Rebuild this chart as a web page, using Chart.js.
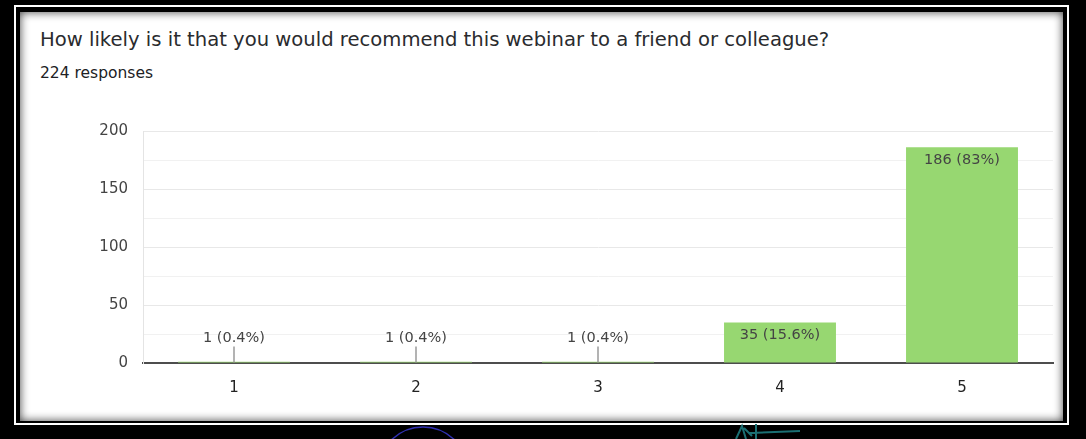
<!DOCTYPE html>
<html>
<head>
<meta charset="utf-8">
<script src="https://cdn.jsdelivr.net/npm/chart.js@4.4.1/dist/chart.umd.min.js"></script>
<style>
  html, body { margin: 0; padding: 0; }
  body { width: 1086px; height: 439px; background: #000; position: relative; overflow: hidden; font-family: "DejaVu Sans", sans-serif; }
  #line { position: absolute; left: 14px; top: 5px; width: 1055px; height: 420px; border: 2px solid #fff; box-sizing: border-box; }
  #content { position: absolute; left: 20px; top: 12px; width: 1043px; height: 409px; background: #fff; box-shadow: inset 0 0 10px rgba(0,0,0,0.75); }
  #title { position: absolute; left: 40px; top: 29.5px; font-size: 19.6px; line-height: 19.6px; color: #2a2b2e; white-space: nowrap; }
  #sub { position: absolute; left: 40px; top: 66px; font-size: 15.5px; line-height: 15.5px; color: #202124; white-space: nowrap; }
  #wrap { position: absolute; left: 0; top: 0; width: 1086px; height: 439px; }
  #deco { position: absolute; left: 0; top: 0; }
</style>
</head>
<body>
<div id="line"></div>
<div id="content"></div>
<svg id="deco" width="1086" height="439">
  <circle cx="423" cy="472" r="45" fill="none" stroke="#3030b0" stroke-width="1.6"/>
  <path d="M736 439 L742 426 L746 439 M744 428 L752 436 M756 424 L756 439 M749 433 L800 431" fill="none" stroke="#1b6f73" stroke-width="2"/>
</svg>
<div id="title">How likely is it that you would recommend this webinar to a friend or colleague?</div>
<div id="sub">224 responses</div>
<div id="wrap"><canvas id="c" width="1086" height="439"></canvas></div>
<script>
const categories = ['1', '2', '3', '4', '5'];
const responses = [1, 1, 1, 35, 186];
const percentLabels = ['0.4%', '0.4%', '0.4%', '15.6%', '83%'];
const yTicks = [0, 50, 100, 150, 200];

const barLabels = {
  id: 'barLabels',
  afterDatasetsDraw(chart) {
    const ctx = chart.ctx;
    const meta = chart.getDatasetMeta(0);
    ctx.save();
    ctx.font = '14.5px "DejaVu Sans"';
    ctx.textAlign = 'center';
    ctx.textBaseline = 'middle';
    meta.data.forEach((bar, i) => {
      const text = responses[i] + ' (' + percentLabels[i] + ')';
      const h = bar.base - bar.y;
      if (h > 22) {
        ctx.fillStyle = '#444';
        ctx.fillText(text, bar.x, bar.y + 13);
      } else {
        ctx.strokeStyle = '#9a9a9a';
        ctx.lineWidth = 1.5;
        ctx.beginPath();
        ctx.moveTo(bar.x, bar.base);
        ctx.lineTo(bar.x, bar.base - 16);
        ctx.stroke();
        ctx.fillStyle = '#444';
        ctx.fillText(text, bar.x, bar.base - 24);
      }
    });
    ctx.restore();
  }
};

new Chart(document.getElementById('c'), {
  type: 'bar',
  data: {
    labels: categories,
    datasets: [{
      data: responses,
      backgroundColor: '#97d771',
      borderWidth: 0,
      barPercentage: 0.615,
      categoryPercentage: 1
    }]
  },
  options: {
    responsive: false,
    animation: false,
    layout: { padding: { left: 0, right: 33, top: 131, bottom: 0 } },
    plugins: { legend: { display: false }, tooltip: { enabled: false }, title: { display: false } },
    scales: {
      x: {
        grid: { display: false },
        border: { display: true, color: '#4d4d4d', width: 2 },
        ticks: { color: '#222', font: { family: 'DejaVu Sans', size: 15 }, padding: 8 },
        afterFit(s) { s.height = 76; }
      },
      y: {
        min: 0, max: 200,
        grid: {
          drawTicks: false,
          color: (c) => (c.tick && c.tick.value % 50 === 0) ? '#e8e8e8' : '#f1f1f1'
        },
        border: { display: true, color: '#e4e4e4', width: 1 },
        ticks: {
          stepSize: 25,
          padding: 15,
          color: '#444',
          font: { family: 'DejaVu Sans', size: 15 },
          callback: (v) => yTicks.includes(v) ? String(v) : ''
        },
        afterFit(s) { s.width = 143; }
      }
    }
  },
  plugins: [barLabels]
});
</script>
</body>
</html>
